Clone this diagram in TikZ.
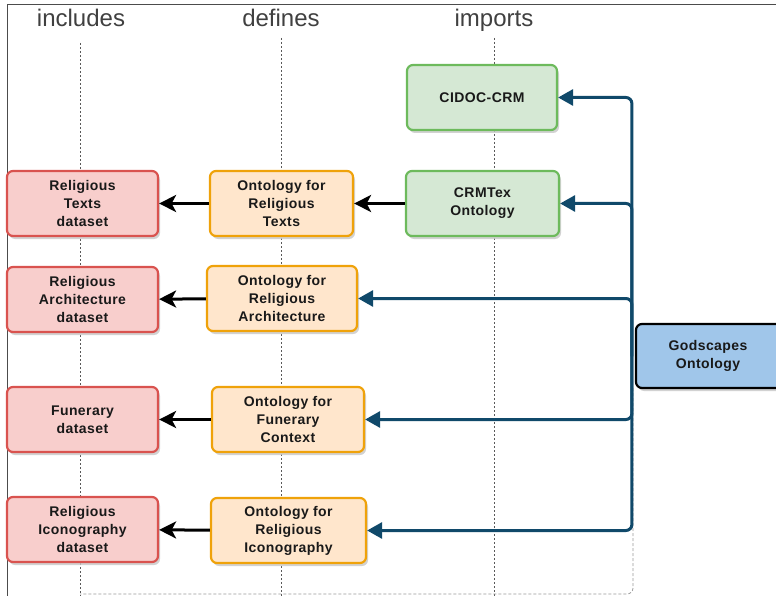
\documentclass[tikz,border=0pt]{standalone}
\usepackage{fontspec}
\setmainfont{Liberation Sans}
\usetikzlibrary{arrows.meta,shadows}
\definecolor{redfill}{HTML}{F8CECC}
\definecolor{redline}{HTML}{D9534F}
\definecolor{orfill}{HTML}{FFE6CC}
\definecolor{orline}{HTML}{EFA20A}
\definecolor{grfill}{HTML}{D5E8D4}
\definecolor{grline}{HTML}{6DBA5C}
\definecolor{blfill}{HTML}{A0C6EA}
\definecolor{impline}{HTML}{10496A}
\tikzset{
  box/.style={rounded corners=6pt, line width=2.2pt, align=center,
    font=\fontsize{14}{18}\selectfont\bfseries\addfontfeature{LetterSpace=3},
    text=black!90, minimum height=65pt, inner sep=2pt,
    drop shadow={shadow xshift=2pt, shadow yshift=-3pt, fill=black!22, opacity=0.8}},
  dataset/.style={box, draw=redline, fill=redfill, minimum width=151pt},
  onto/.style={box, draw=orline, fill=orfill},
  crm/.style={box, draw=grline, fill=grfill},
  head/.style={font=\fontsize{24}{25}\selectfont, text=black!75, anchor=base},
  lane/.style={draw=black!65, line width=0.8pt, dash pattern=on 2pt off 2pt},
  defarrow/.style={line width=3pt, -{Stealth[length=17pt,width=17pt,inset=4.5pt]}},
  imparrow/.style={draw=impline, line width=3pt, rounded corners=6pt,
    -{Triangle[length=15pt,width=16pt]}}
}
\begin{document}
\begin{tikzpicture}[x=1pt, y=-1pt]
  \useasboundingbox (0,0) rectangle (776,596);
  \clip (0,0) rectangle (776,596);
  % frame
  \draw[black!70, line width=1pt] (776,5) -- (7,5) -- (7,596);
  % column headings
  \node[head] (hinc) at (81,27) {includes};
  \node[head] (hdef) at (281,27) {defines};
  \node[head] (himp) at (494,27) {imports};
  % lanes
  \draw[lane] (80,43) -- (80,596);
  \draw[lane] (281,38) -- (281,596);
  \draw[lane] (494,38) -- (494,596);
  \draw[lane, draw=black!40, dash pattern=on 3pt off 2pt, rounded corners=6pt] (633,388) -- (633,594) -- (80,594);

  % boxes
  \node[crm, minimum width=150pt] (cidoc) at (482,97.5) {CIDOC-CRM};
  \node[crm, minimum width=153pt] (crmtex) at (482.5,203.5) {CRMTex\\Ontology};

  \node[onto, minimum width=143pt] (ort) at (281.5,203.5) {Ontology for\\Religious\\Texts};
  \node[onto, minimum width=150pt] (ora) at (282,298.5) {Ontology for\\Religious\\Architecture};
  \node[onto, minimum width=152pt] (ofc) at (288,419.5) {Ontology for\\Funerary\\Context};
  \node[onto, minimum width=155pt] (ori) at (288.5,530.5) {Ontology for\\Religious\\Iconography};

  \node[dataset] (drt) at (82.5,203.5) {Religious\\Texts\\dataset};
  \node[dataset] (dra) at (82.5,299.5) {Religious\\Architecture\\dataset};
  \node[dataset] (dfd) at (82.5,419.5) {Funerary\\dataset};
  \node[dataset] (dri) at (82.5,529.5) {Religious\\Iconography\\dataset};

  \node[box, draw=black, fill=blfill, minimum width=160pt, minimum height=64pt,
    text width=140pt] (god) at (716,356) {\hspace*{-16pt}Godscapes\\\hspace*{-16pt}Ontology};

  % defines / includes
  \draw[defarrow] (crmtex) -- (ort);
  \draw[defarrow] (ort) -- (drt);
  \draw[defarrow] (ora) -- (dra);
  \draw[defarrow] (ofc) -- (dfd);
  \draw[defarrow] (ori) -- (dri);

  % imports
  \draw[imparrow] (god.west) ++(-3,0) |- (cidoc.east);
  \draw[imparrow] (god.west) ++(-3,0) |- (crmtex.east);
  \draw[imparrow] (god.west) ++(-3,0) |- (ora.east);
  \draw[imparrow] (god.west) ++(-3,0) |- (ofc.east);
  \draw[imparrow] (god.west) ++(-3,0) |- (ori.east);
\end{tikzpicture}
\end{document}
